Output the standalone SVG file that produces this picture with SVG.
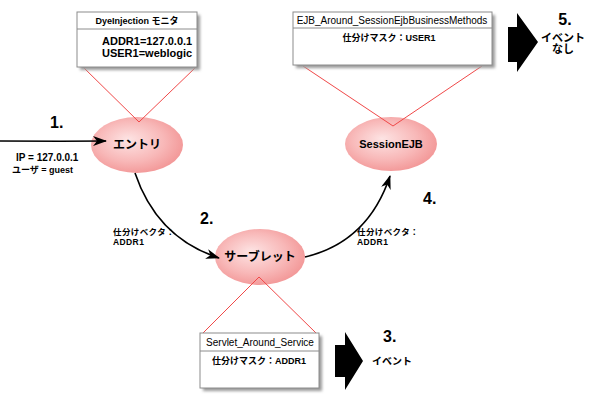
<svg xmlns="http://www.w3.org/2000/svg" width="600" height="400" viewBox="0 0 600 400">
<defs>
<style>
text{font-family:"Liberation Sans","Noto Sans CJK JP",sans-serif;fill:#000}
.b{font-weight:bold}
.box{fill:#fff;stroke:#8c8c8c;stroke-width:1}
.div{stroke:#8c8c8c;stroke-width:1}
.shadow{fill:#9a9a9a;filter:url(#blur)}
.red{fill:none;stroke:#f04848;stroke-width:1}
.node{fill:url(#pink)}
.conn{fill:none;stroke:#000;stroke-width:1.6}
.big{fill:#000}
.num{font-size:16px;font-weight:bold}
.sm{font-size:8.5px;font-weight:bold;letter-spacing:0.4px}
</style>
<filter id="blur" x="-10%" y="-10%" width="130%" height="140%"><feGaussianBlur stdDeviation="1.5"/></filter>
<radialGradient id="pink" cx="0.45" cy="0.45" r="0.6" fx="0.4" fy="0.4">
<stop offset="0" stop-color="#fde4e4"/>
<stop offset="0.6" stop-color="#f8b8b8"/>
<stop offset="1" stop-color="#f29494"/>
</radialGradient>
<marker id="ah" viewBox="0 0 14 10" refX="13" refY="5" markerWidth="14" markerHeight="10" markerUnits="userSpaceOnUse" orient="auto">
<path d="M0,0 L14,5 L0,10 L4,5 z" fill="#000"/>
</marker>
</defs>

<g id="entry">
<ellipse class="node" cx="137" cy="145" rx="46" ry="28"/>
<text x="137" y="149" text-anchor="middle" font-size="12" class="b">エントリ</text>
</g>

<g id="sessionejb">
<ellipse class="node" cx="391" cy="144" rx="46" ry="27"/>
<text x="391" y="148" text-anchor="middle" font-size="11" class="b">SessionEJB</text>
</g>

<g id="servlet">
<ellipse class="node" cx="260" cy="257" rx="45" ry="28"/>
<text x="260" y="261" text-anchor="middle" font-size="12" class="b">サーブレット</text>
</g>

<g id="connectors">
<path class="conn" d="M0,141 L60,141.2 L106,141" marker-end="url(#ah)"/>
<path class="conn" d="M135,173 Q157,238 219,258" marker-end="url(#ah)"/>
<path class="conn" d="M305,257 Q368,242 390,176" marker-end="url(#ah)"/>
</g>

<g id="dye-monitor">
<polyline class="red" points="83,67 139,122 196,67"/>
<rect class="shadow" x="80" y="15" width="120" height="55"/>
<rect class="box" x="77" y="12" width="120" height="55"/>
<line class="div" x1="77" y1="29" x2="197" y2="29"/>
<text x="137" y="24" text-anchor="middle" font-size="9" class="b">DyeInjection モニタ</text>
<text x="102" y="45" font-size="11" class="b">ADDR1=127.0.0.1</text>
<text x="102" y="57" font-size="11" class="b">USER1=weblogic</text>
</g>

<g id="ejb-monitor">
<polyline class="red" points="303,66 393,126 482,66"/>
<rect class="shadow" x="296" y="15" width="199" height="53"/>
<rect class="box" x="293" y="12" width="199" height="53"/>
<line class="div" x1="293" y1="28" x2="492" y2="28"/>
<text x="392" y="24" text-anchor="middle" font-size="10">EJB_Around_SessionEjbBusinessMethods</text>
<text x="389" y="41" text-anchor="middle" font-size="9" class="b">仕分けマスク：USER1</text>
</g>

<g id="servlet-monitor">
<polyline class="red" points="203,333 259,277 316,333"/>
<rect class="shadow" x="203" y="336" width="119" height="55"/>
<rect class="box" x="200" y="333" width="119" height="55"/>
<line class="div" x1="200" y1="351" x2="319" y2="351"/>
<text x="260" y="346" text-anchor="middle" font-size="10">Servlet_Around_Service</text>
<text x="259" y="364" text-anchor="middle" font-size="9" class="b">仕分けマスク：ADDR1</text>
</g>

<g id="step1">
<text x="50" y="128" class="num">1.</text>
<text x="16" y="161" font-size="10" class="b">IP = 127.0.0.1</text>
<text x="12" y="173" font-size="9" class="b">ユーザ = guest</text>
</g>

<g id="step2">
<text x="200" y="224" class="num">2.</text>
<text x="113" y="235" class="sm">仕分けベクタ：</text>
<text x="113" y="245" class="sm">ADDR1</text>
</g>

<g id="step3">
<polygon class="big" points="335,345 345,345 345,332 363,361 345,390 345,377 335,377"/>
<text x="383" y="342" class="num">3.</text>
<text x="372" y="365" font-size="10" class="b">イベント</text>
</g>

<g id="step4">
<text x="423" y="204" class="num">4.</text>
<text x="357" y="235" class="sm">仕分けベクタ：</text>
<text x="357" y="245" class="sm">ADDR1</text>
</g>

<g id="step5">
<polygon class="big" points="508,27 517,27 517,13 538,42 517,72 517,62 508,62"/>
<text x="565" y="25" text-anchor="middle" class="num">5.</text>
<text x="563" y="42" text-anchor="middle" font-size="11" class="b">イベント</text>
<text x="563" y="53" text-anchor="middle" font-size="11" class="b">なし</text>
</g>
</svg>
